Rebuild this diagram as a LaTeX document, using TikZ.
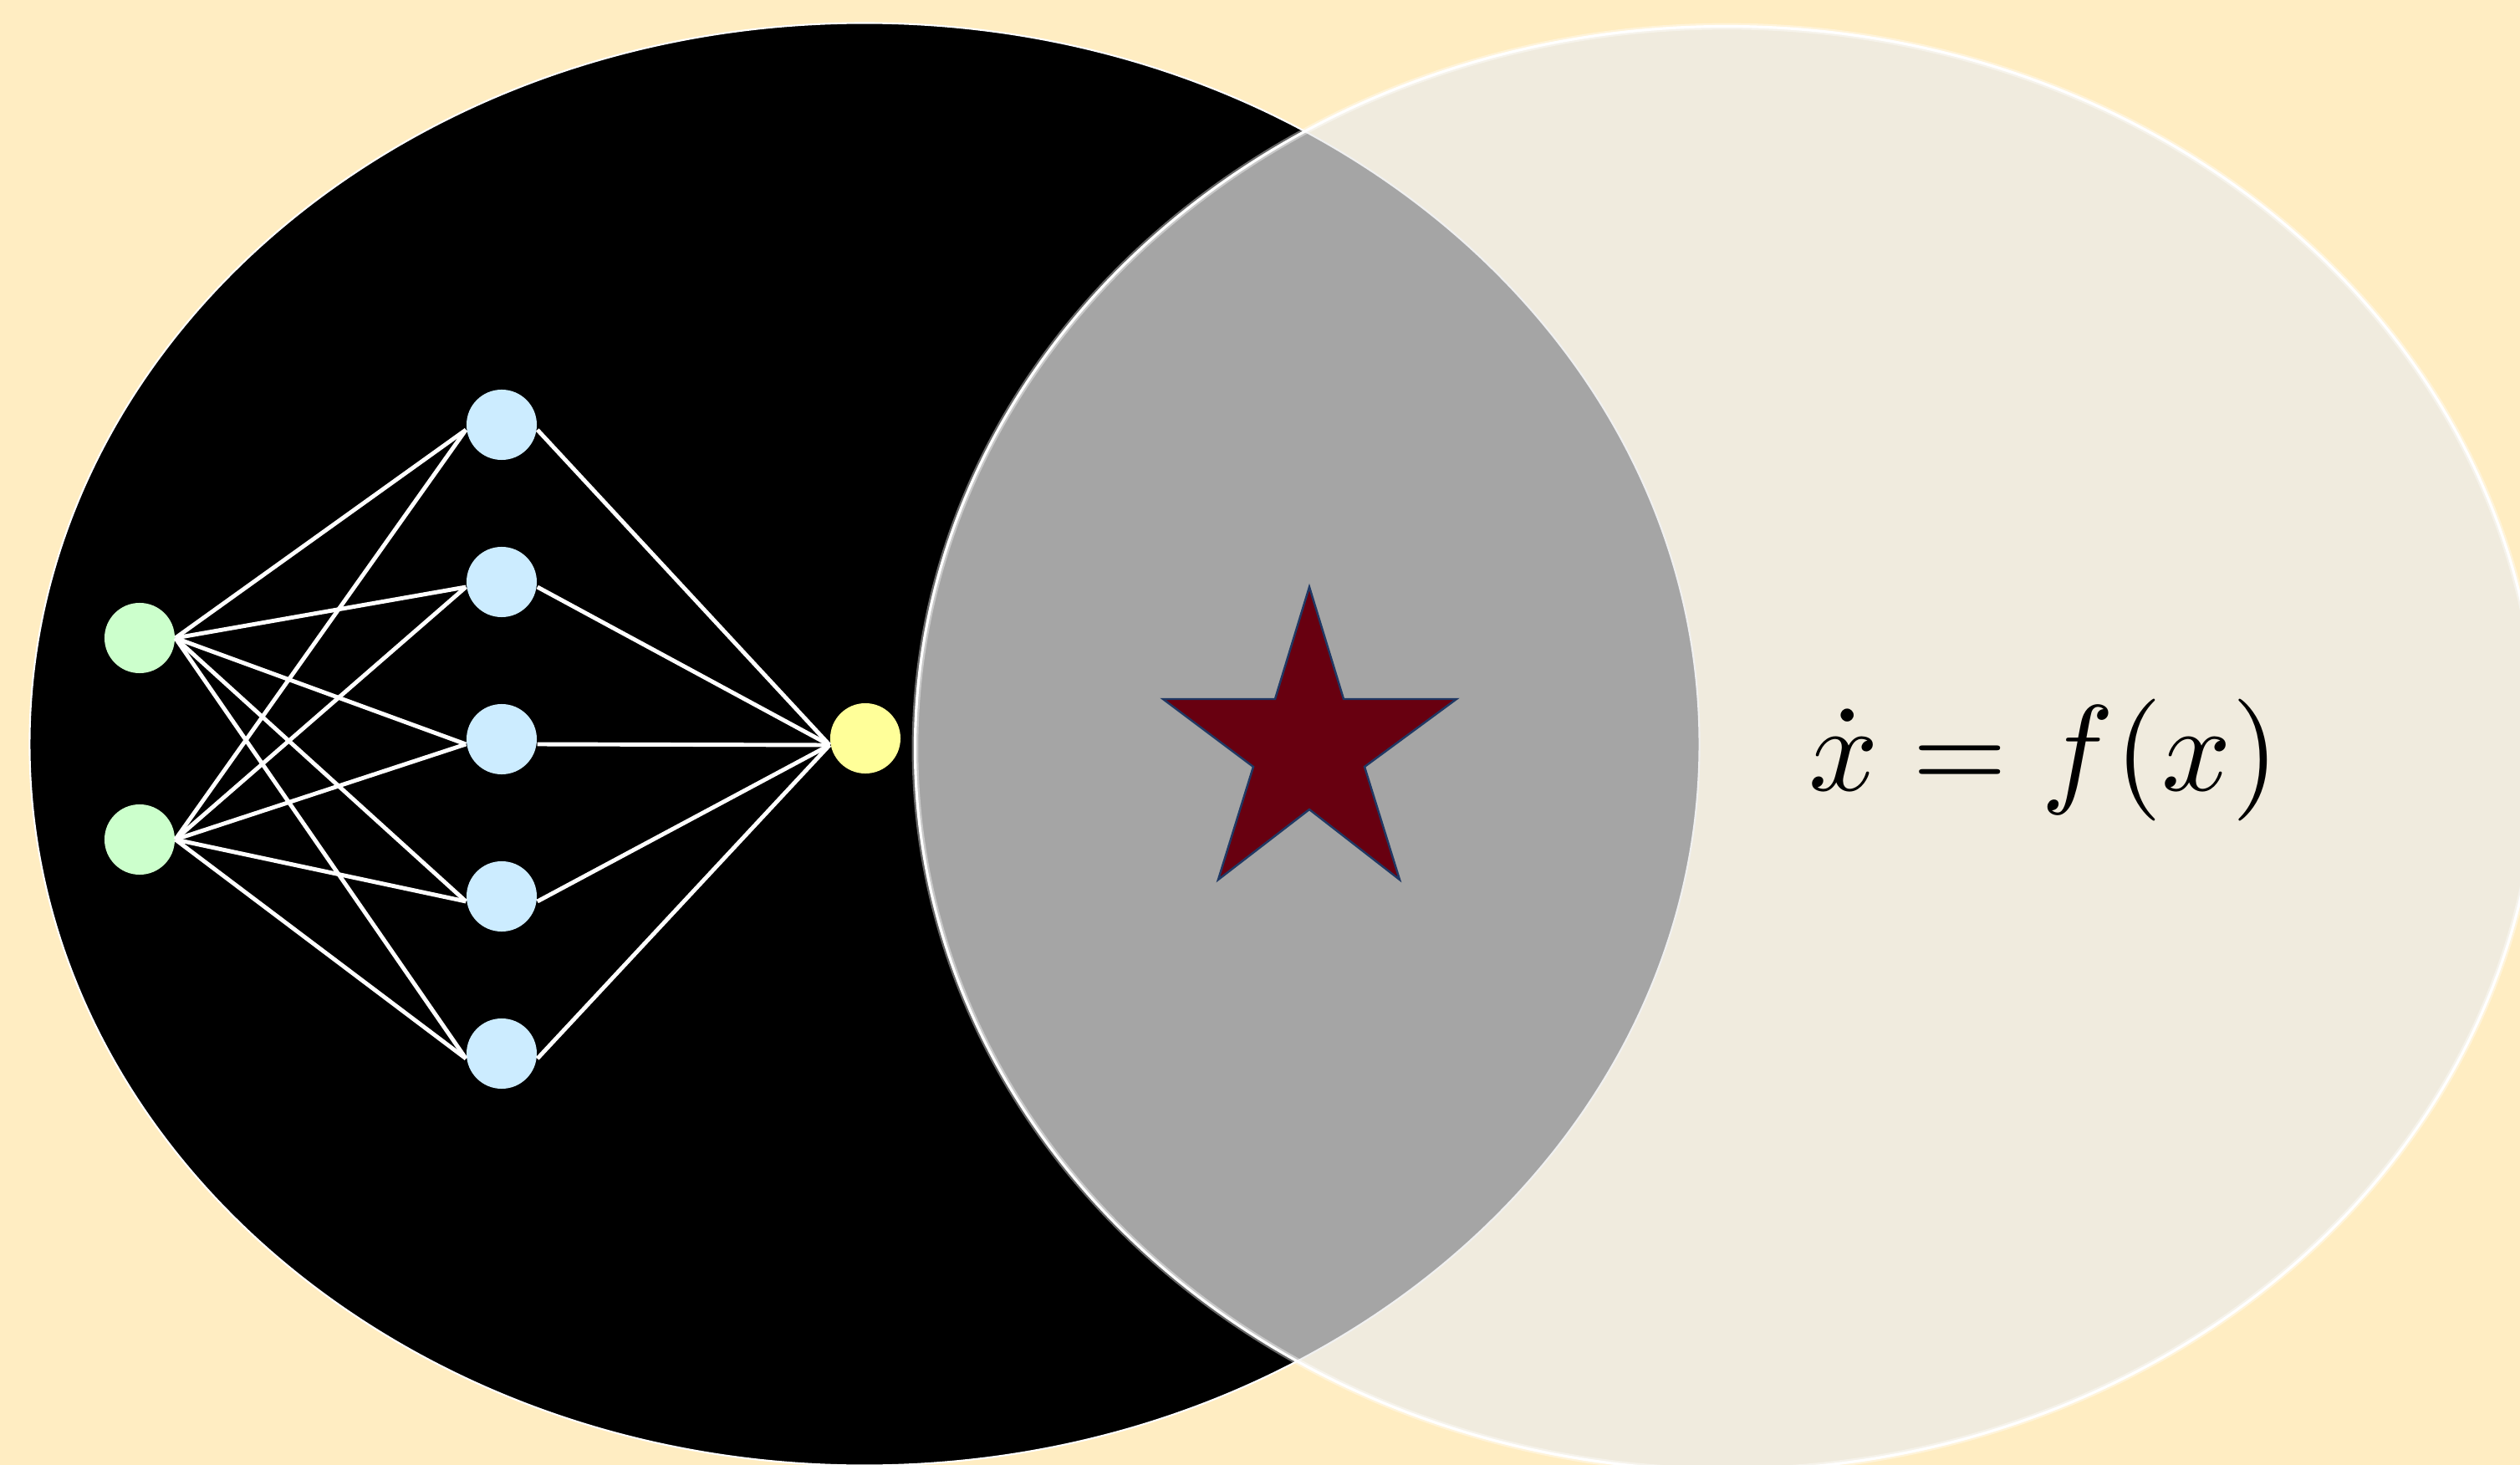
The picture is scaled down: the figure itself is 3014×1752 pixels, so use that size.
\documentclass[tikz,border=0pt]{standalone}
\usepackage{amsmath}
\usepackage{graphicx}
\definecolor{cream}{RGB}{255,237,194}
\definecolor{veil}{RGB}{235,235,235}
\definecolor{ingreen}{RGB}{204,255,204}
\definecolor{hidblue}{RGB}{204,236,255}
\definecolor{outyellow}{RGB}{255,255,153}
\definecolor{starred}{RGB}{104,0,16}
\definecolor{starline}{RGB}{31,56,100}
\begin{document}
\begin{tikzpicture}[x=0.01cm,y=-0.01cm,
  neuron/.style={circle, minimum size=0.84cm, inner sep=0pt},
  innode/.style={neuron, fill=ingreen},
  hidnode/.style={neuron, fill=hidblue},
  outnode/.style={neuron, fill=outyellow},
  link/.style={white, line width=1.4pt},
  starshape/.style={fill=starred, draw=starline, line width=0.7pt, line join=miter},
  formula/.style={inner sep=0pt, anchor=base}
]
\useasboundingbox (0,0) rectangle (3014,1752);
\clip (0,0) rectangle (3014,1752);
\fill[cream] (0,0) rectangle (3014,1752);

% left (black) ellipse
\filldraw[fill=black, draw=white, line width=0.6pt] (1034,890) ellipse [x radius=9.98cm, y radius=8.62cm];

% right (translucent) ellipse
\fill[veil, opacity=0.706] (2065,895) ellipse [x radius=9.70cm, y radius=8.63cm];
\draw[white, line width=2.2pt, opacity=0.4] (2065,895) ellipse [x radius=9.70cm, y radius=8.63cm];
\draw[white, line width=0.9pt] (2065,895) ellipse [x radius=9.70cm, y radius=8.63cm];

% network
\node[innode] (i1) at (167,763) {};
\node[innode] (i2) at (167,1004) {};
\node[hidnode] (h1) at (600,508) {};
\node[hidnode] (h2) at (600,696) {};
\node[hidnode] (h3) at (600,884) {};
\node[hidnode] (h4) at (600,1072) {};
\node[hidnode] (h5) at (600,1260) {};
\node[outnode] (o) at (1035,883) {};

\foreach \i in {i1,i2}{
  \foreach \h in {h1,h2,h3,h4,h5}{
    \draw[link] (\i.east) -- ([yshift=-0.06cm]\h.west);
  }
}
\foreach \h in {h1,h2,h3,h4,h5}{
  \draw[link] ([yshift=-0.06cm]\h.east) -- ([yshift=-0.08cm]o.west);
}

% star
\filldraw[starshape] (1566,702) -- (1607,836) -- (1742,836) -- (1632,917) -- (1674,1052)
  -- (1566,968) -- (1457,1052) -- (1499,917) -- (1391,836) -- (1525,836) -- cycle;

% formula
\node[formula] (eq) at (2445,945) {\scalebox{4.15}{$\dot{x} = f(x)$}};
\end{tikzpicture}
\end{document}
